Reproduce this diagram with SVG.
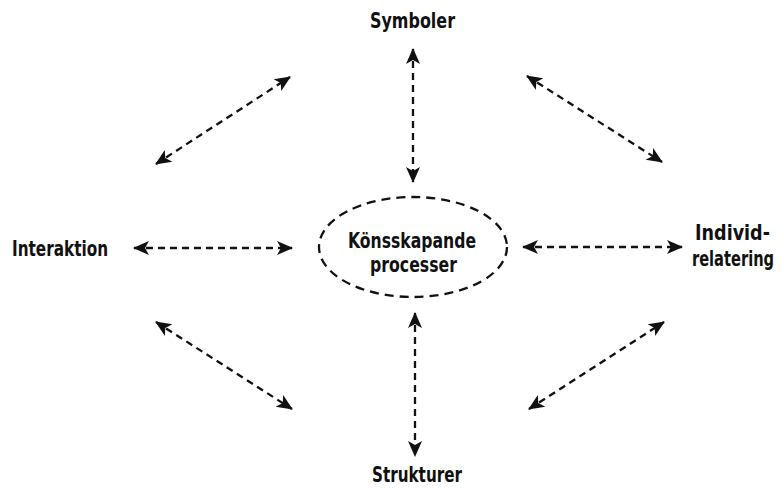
<svg xmlns="http://www.w3.org/2000/svg" width="782" height="488" viewBox="0 0 782 488">
<style>
.lbl{font-family:"Liberation Sans Narrow","DejaVu Sans Condensed","Liberation Sans",sans-serif;font-weight:bold;font-size:22px;fill:#111}
.con{stroke:#111;stroke-width:2.3;stroke-dasharray:7 5;fill:none;marker-start:url(#ah);marker-end:url(#ah)}
.ell{stroke:#111;stroke-width:2.3;stroke-dasharray:9 6;fill:none}
</style>
<defs>
<marker id="ah" viewBox="0 0 16 16" refX="15" refY="8" markerWidth="16" markerHeight="16" markerUnits="userSpaceOnUse" orient="auto-start-reverse">
<path d="M0,1 L16,8 L0,15 L4,8 z" fill="#111"/>
</marker>
</defs>
<g id="center">
<ellipse class="ell" cx="413" cy="247" rx="94" ry="50"/>
<text class="lbl" x="348" y="248" textLength="128" lengthAdjust="spacingAndGlyphs">Könsskapande</text>
<text class="lbl" x="370" y="272" textLength="87" lengthAdjust="spacingAndGlyphs">processer</text>
</g>
<g id="symboler"><text class="lbl" x="370" y="28" textLength="85" lengthAdjust="spacingAndGlyphs">Symboler</text></g>
<g id="strukturer"><text class="lbl" x="372" y="482" textLength="90" lengthAdjust="spacingAndGlyphs">Strukturer</text></g>
<g id="interaktion"><text class="lbl" x="12" y="256" textLength="96" lengthAdjust="spacingAndGlyphs">Interaktion</text></g>
<g id="individ">
<text class="lbl" x="770" y="240" text-anchor="end" textLength="75" lengthAdjust="spacingAndGlyphs">Individ-</text>
<text class="lbl" transform="translate(733,266) scale(0.74,1)" x="0" y="0" text-anchor="middle">relatering</text>
</g>
<g id="connectors">
<line class="con" x1="413" y1="49" x2="413" y2="182"/>
<line class="con" x1="415" y1="313" x2="415" y2="456"/>
<line class="con" x1="134" y1="248" x2="292" y2="248"/>
<line class="con" x1="523" y1="247" x2="682" y2="247"/>
<line class="con" x1="156" y1="164" x2="290" y2="77"/>
<line class="con" x1="527" y1="76" x2="662" y2="162"/>
<line class="con" x1="156" y1="322" x2="292" y2="409"/>
<line class="con" x1="529" y1="409" x2="664" y2="322"/>
</g>
</svg>
